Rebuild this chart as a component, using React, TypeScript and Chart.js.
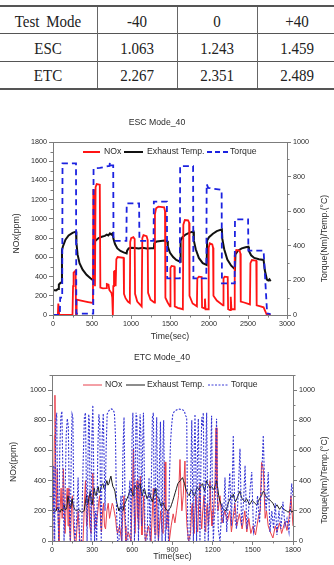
import { useEffect, useRef } from 'react';
import { Chart, registerables } from 'chart.js';

Chart.register(...registerables);

const SANS = '"Liberation Sans", Arial, Helvetica, sans-serif';
const SERIF = '"Liberation Serif", "Times New Roman", serif';
const AXIS = '#7c7c7c';
const INK = '#2b2b2b';

type Pair = [number, number];

// ---- emission ratio table ----
const tableHeader = ['Test Mode', '-40', '0', '+40'];
const tableModes = ['ESC', 'ETC'];
const escRatios = ['1.063', '1.243', '1.459'];
const etcRatios = ['2.267', '2.351', '2.489'];

// ---- ESC Mode_40 : [time (s), value] ----
const escNox: Pair[] = [
  [0, 0], [62, 0], [68, 120], [76, 120], [80, 0], [250, 0], [257, 300], [264, 440], [290, 461], [295, 0],
  [303, 160], [360, 150], [450, 135], [512, 125], [517, 1300], [533, 1300], [538, 300], [546, 1330],
  [560, 1363], [600, 1355], [607, 285], [640, 278], [680, 280], [690, 322], [712, 315], [722, 260],
  [750, 229], [760, 180], [767, 0], [773, 300], [782, 450], [795, 460], [803, 300], [812, 580], [828, 603],
  [905, 595], [910, 220], [930, 175], [960, 140], [985, 125], [990, 760], [1002, 800], [1030, 810],
  [1047, 790], [1052, 220], [1080, 140], [1137, 90], [1145, 800], [1160, 832], [1200, 820], [1214, 780],
  [1219, 230], [1250, 160], [1300, 130], [1307, 1050], [1322, 1110], [1350, 1127], [1425, 1120],
  [1436, 1080], [1441, 180], [1470, 130], [1500, 90], [1506, 490], [1520, 510], [1556, 505], [1561, 90],
  [1600, 75], [1665, 60], [1671, 940], [1690, 988], [1732, 985], [1745, 960], [1750, 200], [1790, 120],
  [1845, 90], [1850, 380], [1870, 399], [1906, 395], [1911, 80], [1940, 70], [1948, 170], [1956, 60],
  [1990, 60], [1996, 700], [2010, 746], [2042, 735], [2052, 700], [2057, 200], [2100, 150], [2180, 100],
  [2186, 380], [2200, 399], [2240, 395], [2245, 60], [2270, 50], [2279, 190], [2288, 60], [2322, 60],
  [2330, 620], [2350, 676], [2392, 670], [2402, 640], [2407, 140], [2450, 130], [2525, 110], [2531, 540],
  [2550, 572], [2606, 565], [2611, 100], [2660, 90], [2700, 80], [2742, 0], [2790, 0],
];

const escTemp: Pair[] = [
  [0, 145], [40, 142], [65, 150], [75, 175], [90, 183], [110, 190], [115, 376], [130, 400], [160, 435],
  [200, 460], [250, 475], [295, 482], [300, 420], [315, 350], [340, 300], [380, 262], [430, 232],
  [480, 212], [517, 200], [522, 414], [545, 430], [585, 445], [625, 452], [665, 457], [690, 465],
  [710, 460], [730, 472], [748, 465], [765, 472], [775, 440], [795, 410], [825, 385], [865, 370],
  [905, 362], [944, 356], [950, 372], [970, 385], [1000, 388], [1050, 387], [1100, 384], [1150, 388],
  [1200, 384], [1260, 386], [1293, 386], [1298, 415], [1330, 425], [1380, 428], [1430, 430], [1464, 428],
  [1472, 395], [1500, 360], [1540, 335], [1580, 318], [1630, 308], [1636, 430], [1660, 450], [1700, 465],
  [1750, 476], [1800, 482], [1806, 430], [1830, 380], [1870, 330], [1920, 300], [1970, 289], [1976, 430],
  [2000, 450], [2050, 470], [2100, 485], [2165, 495], [2171, 440], [2195, 380], [2235, 320], [2285, 285],
  [2333, 264], [2339, 350], [2370, 372], [2420, 385], [2470, 392], [2505, 395], [2512, 370], [2540, 345],
  [2580, 330], [2640, 322], [2700, 318], [2715, 260], [2742, 205], [2760, 200], [2775, 206], [2790, 195],
];

const escTorque: Pair[] = [
  [0, 0], [88, 0], [92, 100], [118, 100], [122, 877], [295, 877], [299, 8], [516, 8], [520, 848],
  [600, 850], [680, 858], [725, 862], [730, 886], [740, 865], [772, 865], [776, 428], [941, 428],
  [945, 645], [1104, 645], [1108, 428], [1289, 428], [1293, 655], [1460, 655], [1464, 212], [1626, 212],
  [1630, 861], [1796, 861], [1800, 212], [1966, 212], [1970, 757], [1990, 735], [2060, 730], [2162, 724],
  [2166, 183], [2329, 183], [2333, 553], [2501, 553], [2505, 372], [2700, 372], [2745, 10], [2790, 5],
];

// ---- ETC Mode_40 : [time (s), value] ----
const etcNox: Pair[] = [
  [0, 0], [6, 150], [12, 300], [18, 700], [22, 966], [27, 500], [32, 200], [40, 480], [46, 150], [52, 0],
  [60, 200], [68, 350], [76, 150], [85, 480], [92, 200], [98, 50], [106, 250], [114, 350], [120, 100],
  [126, 350], [132, 80], [138, 0], [146, 250], [152, 300], [160, 100], [168, 0], [180, 0], [195, 200],
  [208, 0], [232, 0], [242, 250], [250, 400], [258, 100], [265, 150], [275, 300], [282, 100], [292, 50],
  [299, 300], [305, 450], [312, 200], [320, 80], [330, 100], [340, 180], [348, 250], [356, 300], [364, 100],
  [370, 60], [378, 200], [385, 250], [392, 100], [400, 80], [410, 200], [420, 250], [430, 150], [440, 200],
  [450, 250], [458, 230], [468, 180], [475, 150], [482, 80], [490, 50], [505, 100], [520, 0], [530, 200],
  [538, 300], [546, 100], [552, 0], [570, 60], [590, 0], [600, 300], [608, 612], [614, 200], [620, 50],
  [628, 250], [635, 400], [642, 150], [648, 80], [654, 300], [660, 430], [666, 150], [672, 40], [679, 200],
  [685, 300], [692, 80], [698, 0], [720, 100], [740, 0], [750, 200], [757, 350], [763, 100], [770, 40],
  [776, 200], [782, 300], [788, 100], [795, 0], [803, 100], [812, 200], [820, 80], [830, 50], [838, 300],
  [844, 524], [850, 200], [855, 80], [862, 150], [866, 200], [876, 0], [890, 100], [905, 180], [918, 120],
  [930, 200], [945, 300], [956, 540], [963, 350], [970, 200], [980, 300], [993, 530], [1000, 250],
  [1008, 100], [1020, 0], [1035, 50], [1042, 200], [1048, 250], [1054, 100], [1060, 50], [1068, 200],
  [1075, 300], [1082, 100], [1088, 60], [1096, 250], [1105, 380], [1112, 150], [1118, 80], [1126, 200],
  [1135, 300], [1142, 100], [1148, 60], [1154, 200], [1160, 250], [1168, 100], [1174, 200], [1180, 400],
  [1188, 200], [1195, 100], [1203, 150], [1210, 250], [1218, 400], [1225, 750], [1232, 350], [1240, 200],
  [1255, 300], [1270, 120], [1290, 200], [1310, 130], [1328, 200], [1340, 60], [1366, 250], [1380, 100],
  [1400, 180], [1420, 80], [1440, 200], [1455, 60], [1470, 150], [1485, 50], [1502, 100], [1520, 40],
  [1540, 150], [1555, 200], [1565, 520], [1578, 480], [1592, 150], [1602, 200], [1615, 100], [1630, 60],
  [1650, 20], [1668, 100], [1680, 60], [1700, 120], [1715, 50], [1740, 130], [1755, 70], [1770, 150],
  [1785, 300], [1800, 100],
];

const etcTemp: Pair[] = [
  [0, 190], [10, 205], [20, 195], [30, 200], [40, 225], [50, 205], [60, 190], [70, 210], [80, 200],
  [90, 240], [100, 205], [110, 220], [120, 300], [130, 240], [140, 220], [150, 280], [160, 230], [170, 210],
  [180, 200], [200, 210], [220, 190], [240, 200], [250, 260], [258, 300], [266, 240], [276, 280],
  [285, 330], [293, 260], [300, 240], [308, 300], [315, 350], [323, 310], [330, 300], [338, 340],
  [345, 360], [352, 320], [360, 330], [370, 370], [380, 380], [388, 350], [395, 340], [403, 380],
  [410, 400], [418, 370], [425, 380], [433, 410], [440, 430], [448, 390], [455, 360], [462, 350],
  [470, 330], [478, 280], [485, 250], [493, 220], [500, 200], [508, 215], [515, 230], [522, 210],
  [530, 200], [540, 240], [550, 260], [560, 280], [570, 300], [580, 330], [590, 350], [598, 320],
  [605, 300], [612, 340], [620, 370], [630, 350], [640, 340], [650, 370], [658, 380], [666, 330],
  [675, 300], [682, 330], [690, 350], [700, 310], [710, 280], [720, 300], [730, 320], [740, 280],
  [750, 260], [760, 300], [770, 350], [776, 320], [782, 300], [790, 290], [800, 280], [808, 250],
  [815, 230], [823, 250], [832, 250], [840, 230], [850, 210], [860, 205], [870, 200], [878, 215],
  [885, 220], [892, 240], [900, 260], [910, 290], [920, 320], [930, 350], [940, 380], [948, 390],
  [958, 400], [966, 410], [975, 420], [982, 400], [990, 380], [998, 350], [1006, 330], [1015, 310],
  [1025, 300], [1035, 330], [1045, 340], [1055, 310], [1065, 300], [1075, 330], [1085, 360], [1095, 340],
  [1105, 350], [1115, 370], [1125, 380], [1132, 350], [1140, 330], [1148, 370], [1155, 400], [1162, 380],
  [1170, 370], [1180, 350], [1192, 360], [1200, 350], [1210, 340], [1220, 370], [1230, 400], [1238, 350],
  [1245, 300], [1252, 270], [1260, 250], [1270, 225], [1280, 210], [1290, 205], [1300, 200], [1310, 230],
  [1320, 260], [1330, 280], [1340, 300], [1347, 290], [1354, 310], [1362, 280], [1370, 260], [1380, 280],
  [1390, 300], [1397, 320], [1404, 330], [1412, 300], [1420, 280], [1430, 270], [1440, 260], [1447, 275],
  [1454, 280], [1465, 260], [1475, 240], [1485, 255], [1495, 270], [1505, 260], [1515, 250], [1522, 245],
  [1530, 240], [1540, 260], [1550, 280], [1557, 290], [1565, 300], [1572, 320], [1580, 330], [1588, 315],
  [1595, 300], [1602, 290], [1610, 280], [1620, 275], [1630, 270], [1640, 260], [1650, 250], [1658, 235],
  [1665, 220], [1672, 230], [1680, 240], [1690, 225], [1700, 210], [1708, 220], [1715, 230], [1722, 220],
  [1730, 210], [1740, 205], [1750, 200], [1758, 195], [1765, 190], [1772, 200], [1780, 210], [1790, 190],
  [1800, 200],
];

const etcTorque: Pair[] = [
  [0, 100], [6, 0], [14, 500], [20, 0], [28, 780], [35, 850], [42, 300], [50, 0], [58, 600], [66, 820],
  [74, 860], [82, 400], [90, 0], [98, 300], [106, 700], [114, 810], [122, 760], [130, 200], [136, 0],
  [144, 600], [150, 840], [156, 820], [162, 300], [170, 0], [182, 100], [195, 420], [205, 0], [220, 0],
  [232, 500], [242, 820], [250, 850], [256, 400], [262, 0], [268, 500], [274, 840], [279, 800], [285, 200],
  [292, 0], [298, 700], [305, 900], [311, 500], [318, 0], [326, 200], [334, 0], [342, 600], [350, 840],
  [357, 780], [363, 200], [368, 0], [375, 700], [383, 845], [390, 500], [396, 200], [404, 600], [412, 840],
  [422, 860], [432, 870], [444, 875], [456, 870], [466, 850], [474, 700], [482, 200], [490, 0], [500, 0],
  [508, 200], [515, 300], [522, 0], [530, 600], [538, 820], [545, 300], [552, 0], [566, 0], [574, 300],
  [582, 400], [590, 0], [598, 700], [604, 850], [610, 600], [616, 0], [622, 500], [628, 850], [634, 820],
  [640, 300], [646, 0], [652, 650], [658, 840], [664, 700], [670, 100], [676, 600], [683, 850], [689, 500],
  [695, 0], [710, 0], [718, 300], [725, 420], [733, 0], [742, 400], [750, 820], [757, 850], [763, 300],
  [770, 0], [776, 600], [782, 820], [788, 400], [795, 0], [802, 500], [810, 790], [816, 300], [822, 0],
  [828, 600], [834, 800], [840, 350], [847, 0], [855, 150], [862, 200], [870, 0], [878, 450], [885, 650],
  [893, 760], [902, 840], [915, 860], [930, 868], [945, 875], [960, 872], [975, 870], [988, 862],
  [998, 830], [1006, 820], [1011, 300], [1016, 0], [1030, 0], [1038, 500], [1044, 800], [1050, 400],
  [1056, 0], [1062, 600], [1068, 840], [1074, 500], [1080, 0], [1087, 600], [1093, 810], [1099, 400],
  [1105, 0], [1112, 500], [1118, 820], [1124, 760], [1130, 850], [1136, 300], [1142, 0], [1149, 600],
  [1155, 850], [1161, 400], [1167, 0], [1174, 200], [1180, 300], [1186, 600], [1192, 830], [1198, 300],
  [1205, 0], [1212, 150], [1218, 200], [1224, 600], [1229, 810], [1236, 300], [1242, 80], [1255, 0],
  [1270, 250], [1280, 120], [1292, 420], [1305, 60], [1318, 300], [1328, 450], [1340, 100], [1354, 700],
  [1366, 150], [1378, 80], [1390, 300], [1404, 612], [1416, 100], [1430, 250], [1442, 500], [1455, 80],
  [1468, 200], [1480, 350], [1492, 457], [1505, 60], [1520, 120], [1535, 300], [1550, 120], [1565, 400],
  [1578, 700], [1590, 300], [1600, 200], [1615, 457], [1628, 60], [1642, 200], [1655, 80], [1668, 250],
  [1680, 40], [1695, 200], [1710, 80], [1725, 260], [1740, 100], [1755, 150], [1770, 60], [1790, 380],
  [1800, 300],
];

const seriesLabels = ['NOx', 'Exhaust Temp.', 'Torque'];
const leftAxisTitle = 'NOx(ppm)';
const rightAxisTitle = 'Torque(Nm)/Temp.(°C)';
const xAxisTitle = 'Time(sec)';

const toXY = (p: Pair[]) => p.map(([x, y]) => ({ x, y }));

type LegendKey = { label: string; color: string; width: number; dash: number[]; x0: number; x1: number; tx: number };
type Series = { label: string; data: Pair[]; axis: 'y' | 'y1'; color: string; width: number; dash: number[]; order: number };
type PanelSpec = {
  top: number; height: number;
  title: string; titleX: number; titleY: number;
  areaTop: number; leftW: number; rightW: number; xH: number; xTitlePad: number;
  xMax: number; xStep: number; xMinor: number;
  yMax: number; y1Max: number;
  leftTitleX: number; leftShift: number; rightTitleX: number; rightShift: number;
  legendY: number; keys: LegendKey[];
  series: Series[];
};

// Frame, minor ticks, axis titles, panel title and the in-plot legend.
function panelOverlay(spec: PanelSpec) {
  return {
    id: 'panelOverlay',
    afterDraw(chart: any) {
      const { ctx, chartArea: a, scales } = chart;
      const L = Math.round(a.left), R = Math.round(a.right), T = Math.round(a.top), B = Math.round(a.bottom);
      ctx.save();
      ctx.setLineDash([]);
      ctx.strokeStyle = AXIS;
      ctx.lineWidth = 1;
      ctx.strokeRect(L + 0.5, T + 0.5, R - L, B - T);

      const minor = (scale: any, step: number, major: number, draw: (p: number) => void) => {
        for (let v = scale.min + step; v <= scale.max + 1e-6; v += step) {
          if (Math.abs(v % major) < 1e-6) continue;
          draw(Math.round(scale.getPixelForValue(v)) + 0.5);
        }
      };
      ctx.beginPath();
      minor(scales.x, spec.xMinor, spec.xStep, (p) => { ctx.moveTo(p, B); ctx.lineTo(p, B + 2.5); });
      minor(scales.y, 100, 200, (p) => { ctx.moveTo(L, p); ctx.lineTo(L - 2.5, p); });
      minor(scales.y1, 100, 200, (p) => { ctx.moveTo(R, p); ctx.lineTo(R + 2.5, p); });
      ctx.stroke();

      ctx.fillStyle = INK;
      ctx.textAlign = 'center';
      ctx.textBaseline = 'middle';
      ctx.font = `8.7px ${SANS}`;
      ctx.fillText(spec.title, spec.titleX, spec.titleY);

      const cy = (a.top + a.bottom) / 2;
      ctx.font = `8.7px ${SANS}`;
      ctx.save();
      ctx.translate(spec.leftTitleX, cy + spec.leftShift);
      ctx.rotate(-Math.PI / 2);
      ctx.fillText(leftAxisTitle, 0, 0);
      ctx.restore();
      ctx.save();
      ctx.translate(spec.rightTitleX, cy + spec.rightShift);
      ctx.rotate(-Math.PI / 2);
      ctx.fillText(rightAxisTitle, 0, 0);
      ctx.restore();

      ctx.font = `8.7px ${SANS}`;
      ctx.textAlign = 'left';
      for (const k of spec.keys) {
        ctx.strokeStyle = k.color;
        ctx.lineWidth = k.width;
        ctx.setLineDash(k.dash);
        ctx.beginPath();
        ctx.moveTo(k.x0, spec.legendY);
        ctx.lineTo(k.x1, spec.legendY);
        ctx.stroke();
        ctx.setLineDash([]);
        ctx.fillText(k.label, k.tx, spec.legendY);
      }
      ctx.restore();
    },
  };
}

function Panel({ spec }: { spec: PanelSpec }) {
  const ref = useRef<HTMLCanvasElement>(null);
  useEffect(() => {
    const tickFont = { family: SANS, size: 7.2 };
    const plain = (v: any) => String(v);
    const axisBase = {
      grid: { drawOnChartArea: false, drawTicks: true, tickLength: 4, color: AXIS },
      border: { color: AXIS, width: 1 },
    };
    const chart = new Chart(ref.current as HTMLCanvasElement, {
      type: 'line',
      data: {
        datasets: spec.series.map((s) => ({
          label: s.label,
          data: toXY(s.data),
          yAxisID: s.axis,
          borderColor: s.color,
          borderWidth: s.width,
          borderDash: s.dash,
          pointRadius: 0,
          tension: 0,
          fill: false,
          order: s.order,
        })),
      },
      options: {
        responsive: false,
        animation: false,
        events: [],
        layout: { padding: { top: spec.areaTop, left: 0, right: 0, bottom: 0 } },
        plugins: { legend: { display: false }, title: { display: false }, tooltip: { enabled: false } },
        scales: {
          x: {
            ...axisBase,
            type: 'linear',
            min: 0,
            max: spec.xMax,
            ticks: { stepSize: spec.xStep, font: tickFont, color: INK, padding: 1, maxRotation: 0, autoSkip: false, callback: plain },
            title: { display: true, text: xAxisTitle, font: { family: SANS, size: 8.7 }, color: INK, padding: { top: 0, bottom: spec.xTitlePad } },
            afterFit: (s: any) => { s.height = spec.xH; },
          },
          y: {
            ...axisBase,
            type: 'linear',
            position: 'left',
            min: 0,
            max: spec.yMax,
            ticks: { stepSize: 200, includeBounds: false, font: tickFont, color: INK, padding: 2, callback: plain },
            afterFit: (s: any) => { s.width = spec.leftW; },
          },
          y1: {
            ...axisBase,
            type: 'linear',
            position: 'right',
            min: 0,
            max: spec.y1Max,
            ticks: { stepSize: 200, includeBounds: false, font: tickFont, color: INK, padding: 2, callback: plain },
            afterFit: (s: any) => { s.width = spec.rightW; },
          },
        },
      } as any,
      plugins: [panelOverlay(spec)],
    });
    return () => chart.destroy();
  }, [spec]);
  return (
    <canvas
      ref={ref}
      width={334}
      height={spec.height}
      style={{ position: 'absolute', left: 0, top: spec.top, width: 334, height: spec.height }}
    />
  );
}

const escSpec: PanelSpec = {
  top: 100, height: 242,
  title: 'ESC Mode_40', titleX: 157, titleY: 23,
  areaTop: 42, leftW: 53, rightW: 47, xH: 27, xTitlePad: 0,
  xMax: 3000, xStep: 500, xMinor: 250,
  yMax: 1800, y1Max: 1000,
  leftTitleX: 17, leftShift: 5, rightTitleX: 325, rightShift: 10,
  legendY: 52,
  keys: [
    { label: seriesLabels[0], color: '#ff1414', width: 2, dash: [], x0: 83, x1: 100, tx: 104 },
    { label: seriesLabels[1], color: '#111111', width: 2, dash: [], x0: 124, x1: 143, tx: 147 },
    { label: seriesLabels[2], color: '#1c22e0', width: 2, dash: [5, 3], x0: 207, x1: 228, tx: 230 },
  ],
  series: [
    { label: seriesLabels[0], data: escNox, axis: 'y', color: '#ff1414', width: 1.8, dash: [], order: 1 },
    { label: seriesLabels[1], data: escTemp, axis: 'y1', color: '#111111', width: 2, dash: [], order: 2 },
    { label: seriesLabels[2], data: escTorque, axis: 'y1', color: '#1c22e0', width: 1.8, dash: [6, 4], order: 0 },
  ],
};

const etcSpec: PanelSpec = {
  top: 342, height: 223,
  title: 'ETC Mode_40', titleX: 162, titleY: 16,
  areaTop: 33, leftW: 52, rightW: 41, xH: 24, xTitlePad: 3,
  xMax: 1800, xStep: 300, xMinor: 150,
  yMax: 1100, y1Max: 1100,
  leftTitleX: 14, leftShift: 4, rightTitleX: 325, rightShift: 22,
  legendY: 43,
  keys: [
    { label: seriesLabels[0], color: '#e8404c', width: 1, dash: [], x0: 83, x1: 102, tx: 105 },
    { label: seriesLabels[1], color: '#1a1a1a', width: 1, dash: [], x0: 126, x1: 145, tx: 147 },
    { label: seriesLabels[2], color: '#3a3ad6', width: 1, dash: [2, 1.5], x0: 208, x1: 228, tx: 231 },
  ],
  series: [
    { label: seriesLabels[0], data: etcNox, axis: 'y', color: '#e8404c', width: 1, dash: [], order: 2 },
    { label: seriesLabels[1], data: etcTemp, axis: 'y1', color: '#1a1a1a', width: 1, dash: [], order: 1 },
    { label: seriesLabels[2], data: etcTorque, axis: 'y1', color: '#3434d4', width: 1.1, dash: [2, 1.5], order: 0 },
  ],
};

const hLine = (top: number, h: number) => (
  <div style={{ position: 'absolute', left: 0, top, width: 334, height: h, background: '#555' }} />
);
const vLine = (left: number) => (
  <div style={{ position: 'absolute', left, top: 7, width: 1, height: 81, background: '#666' }} />
);

function TableCell({ cx, cy, text }: { cx: number; cy: number; text: string }) {
  return (
    <div
      style={{
        position: 'absolute', left: cx - 50, top: cy - 10, width: 100, height: 20, lineHeight: '20px',
        textAlign: 'center', fontFamily: SERIF, fontSize: 15, color: '#222', wordSpacing: 3,
        transform: 'scaleY(1.12)', whiteSpace: 'pre',
      }}
    >
      {text}
    </div>
  );
}

function RatioTable() {
  const colX = [48, 137, 217, 297];
  const rowY = [21, 47.5, 75];
  const rows = [tableHeader, [tableModes[0], ...escRatios], [tableModes[1], ...etcRatios]];
  return (
    <>
      {hLine(5, 2)}
      {hLine(33, 1)}
      {hLine(61, 1)}
      {hLine(88, 2)}
      {vLine(97)}
      {vLine(177)}
      {vLine(257)}
      {rows.map((r, i) => r.map((t, j) => <TableCell key={`${i}-${j}`} cx={colX[j]} cy={rowY[i]} text={t} />))}
    </>
  );
}

export default function App() {
  return (
    <div style={{ position: 'absolute', left: 0, top: 0, width: 334, height: 565, background: '#fff', overflow: 'hidden' }}>
      <RatioTable />
      <Panel spec={escSpec} />
      <Panel spec={etcSpec} />
    </div>
  );
}
